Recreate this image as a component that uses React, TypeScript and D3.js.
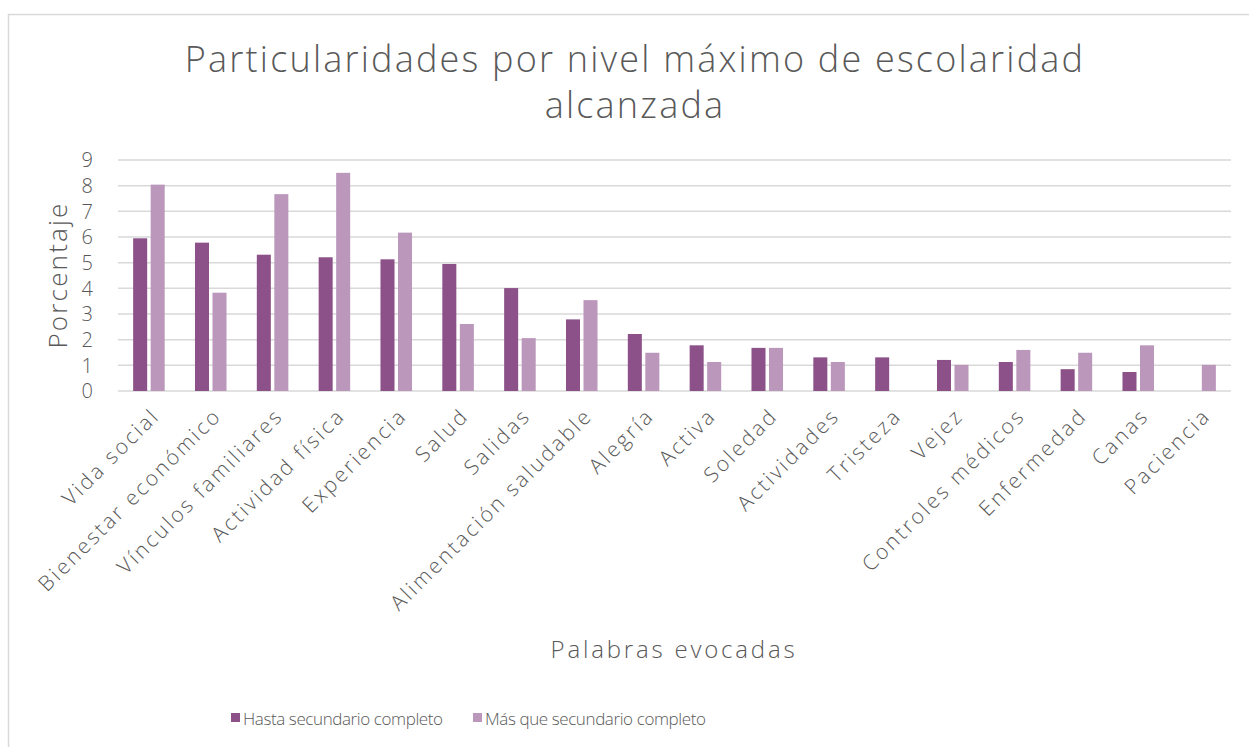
import React from "react";
import * as d3 from "d3";

const categories = [
  "Vida social", "Bienestar económico", "Vínculos familiares", "Actividad física",
  "Experiencia", "Salud", "Salidas", "Alimentación saludable", "Alegría", "Activa",
  "Soledad", "Actividades", "Tristeza", "Vejez", "Controles médicos", "Enfermedad",
  "Canas", "Paciencia",
];
const hastaSecundario = [5.95, 5.78, 5.31, 5.21, 5.13, 4.95, 4.01, 2.79, 2.22, 1.78, 1.68, 1.31, 1.31, 1.21, 1.13, 0.85, 0.74, 0];
const masQueSecundario = [8.04, 3.83, 7.67, 8.5, 6.17, 2.61, 2.06, 3.54, 1.49, 1.13, 1.68, 1.13, 0, 1.02, 1.6, 1.49, 1.78, 1.02];
const seriesNames = ["Hasta secundario completo", "Más que secundario completo"];
const yTicks = [0, 1, 2, 3, 4, 5, 6, 7, 8, 9];
const titleLines = ["Particularidades por nivel máximo de escolaridad", "alcanzada"];
const yTitle = "Porcentaje";
const xTitle = "Palabras evocadas";

const COLORS = ["#8C5188", "#BA97BB"];
const TEXT = "#595959";
const GRID = "#D9D9D9";
const FONT = "'Open Sans', 'DejaVu Sans', sans-serif";

export default function App() {
  const W = 1249, H = 747;
  const left = 118, right = 1231, top = 160, bottom = 391;
  const x0 = d3.scaleBand<string>().domain(categories).range([left, right]).paddingInner(0.49).paddingOuter(0.245);
  const x1 = d3.scaleBand<number>().domain([0, 1]).range([0, x0.bandwidth()]).paddingInner(0.2).paddingOuter(0);
  const y = d3.scaleLinear().domain([0, 9]).range([bottom, top]);
  const series = [hastaSecundario, masQueSecundario];

  return (
    <svg width={W} height={H} style={{ position: "absolute", left: 0, top: 0, fontFamily: FONT, fontWeight: 300 }}>
      <rect x={0} y={0} width={W} height={H} fill="#fff" />
      <rect x={8.5} y={14.5} width={W + 10} height={H + 10} fill="none" stroke={GRID} strokeWidth={1.5} />
      {titleLines.map((t, i) => (
        <text key={i} x={635} y={72 + i * 46} textAnchor="middle" fontSize={36} letterSpacing={2.2} fill={TEXT}>{t}</text>
      ))}
      {yTicks.map((t) => (
        <g key={t}>
          <line x1={left} x2={right} y1={y(t)} y2={y(t)} stroke={GRID} strokeWidth={1.5} />
          <text x={93} y={y(t)} dy="0.36em" textAnchor="end" fontSize={20} fill={TEXT}>{t}</text>
        </g>
      ))}
      {categories.map((c, i) => (
        <g key={c}>
          {series.map((s, j) =>
            s[i] > 0 ? (
              <rect key={j} x={(x0(c) as number) + (x1(j) as number)} y={y(s[i])} width={x1.bandwidth()} height={y(0) - y(s[i])} fill={COLORS[j]} />
            ) : null
          )}
        </g>
      ))}
      {categories.map((c) => {
        const cx = (x0(c) as number) + x0.bandwidth() / 2;
        return (
          <text key={c} transform={`translate(${cx + 12},${417}) rotate(-45)`} textAnchor="end" fontSize={21} letterSpacing={2.6} fill={TEXT}>{c}</text>
        );
      })}
      <text transform={`translate(67,275) rotate(-90)`} textAnchor="middle" fontSize={26} letterSpacing={2.2} fill={TEXT}>{yTitle}</text>
      <text x={674} y={658} textAnchor="middle" fontSize={24} letterSpacing={2.8} fill={TEXT}>{xTitle}</text>
      {seriesNames.map((n, j) => {
        const lx = [231, 473][j];
        return (
          <g key={n}>
            <rect x={lx} y={713} width={9} height={9} fill={COLORS[j]} />
            <text x={lx + 12} y={724.5} fontSize={17} letterSpacing={-0.4} fill={TEXT}>{n}</text>
          </g>
        );
      })}
    </svg>
  );
}
